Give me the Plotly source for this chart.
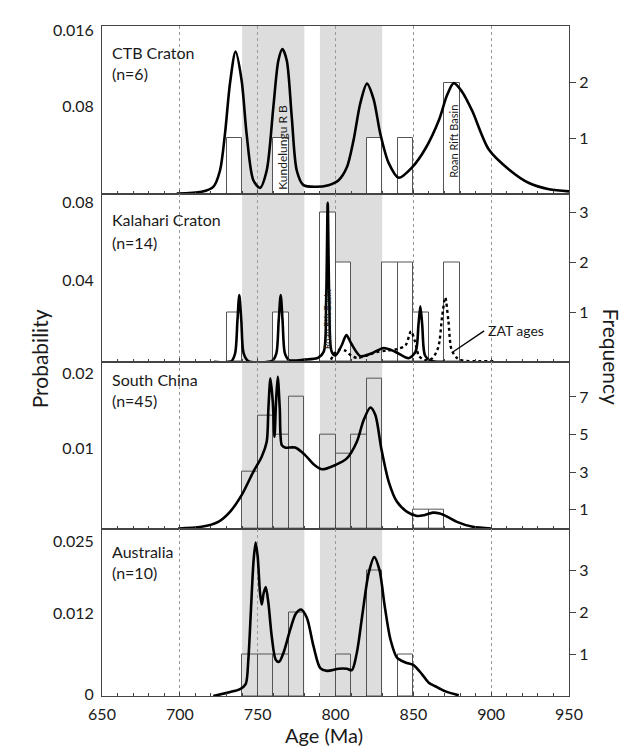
import plotly.graph_objects as go

# ---------------- data ----------------
ctb_age = [698, 714, 721.5, 725.8, 729, 732.2, 735.8, 739.7, 742.9, 747.2, 751.5, 755.8, 760.1, 763.3,
           765.9, 768.7, 771.9, 775.1, 779.4, 787, 795.5, 802, 807.3, 811.6, 815.9, 820.2, 824.5, 828.8,
           834.2, 840.6, 849.2, 857.8, 866.4, 871.7, 876, 881.4, 887.8, 898.5, 911.4, 924.3, 937.2, 950]
ctb_prob = [0, 0.00016, 0.00063, 0.0022, 0.0057, 0.0105, 0.01355, 0.0108, 0.0057, 0.00127, 0.00054, 0.0022,
            0.0083, 0.0127, 0.0138, 0.0127, 0.0073, 0.0022, 0.0008, 0.00064, 0.0008, 0.00127, 0.0025, 0.0051,
            0.0086, 0.0105, 0.009, 0.0057, 0.0029, 0.0015, 0.0025, 0.0043, 0.007, 0.0094, 0.01054, 0.0097,
            0.0079, 0.0042, 0.0023, 0.001, 0.0004, 0.0002]
ctb_bin = [735, 765, 825, 845, 875]
ctb_count = [1, 1, 1, 1, 2]

kal_age = [722, 733, 735.5, 737, 738.2, 739.5, 741, 744, 759.5, 762, 763.5, 764.8, 766, 767.5, 770, 780,
           789, 792.5, 794, 795, 796, 797.5, 800, 804, 807, 810, 816, 823, 831, 838, 847, 851.5, 853.3,
           854.5, 855.7, 857.5, 861, 870]
kal_prob = [0, 0.0002, 0.004, 0.02, 0.0325, 0.02, 0.004, 0.0003, 0.0005, 0.004, 0.02, 0.0325, 0.02, 0.004,
            0.0008, 0.001, 0.002, 0.005, 0.03, 0.0775, 0.03, 0.005, 0.003, 0.008, 0.013, 0.009, 0.0027,
            0.004, 0.0067, 0.005, 0.0017, 0.005, 0.018, 0.027, 0.018, 0.003, 0.0005, 0]
zat_age = [797, 800, 803, 806, 810, 814, 820, 826, 833, 840, 845, 848.5, 851, 853.5, 857, 862, 866, 868.5,
           870.5, 872.5, 874.5, 878, 882, 890, 902]
zat_prob = [0.001, 0.0045, 0.006, 0.0055, 0.003, 0.0018, 0.003, 0.0046, 0.0055, 0.0062, 0.008, 0.0148,
            0.01, 0.003, 0.0008, 0.0015, 0.007, 0.022, 0.0313, 0.02, 0.006, 0.0018, 0.0005, 0.0002, 0.0002]
kal_bin = [735, 765, 795, 805, 835, 845, 855, 875]
kal_count = [1, 1, 3, 2, 2, 2, 1, 2]

sc_age = [698.9, 713.9, 724.7, 732.2, 739.7, 747.2, 752.6, 755.8, 756.9, 758.2, 759.7, 760.8, 761.8, 762.9,
          764.2, 765.5, 767.6, 774.1, 780.5, 785.9, 791.2, 799.8, 807.3, 813.7, 818.1, 822.4, 825.6, 829.4,
          834.2, 839.5, 846, 852.4, 857, 862.5, 867, 872, 878, 888.2, 900]
sc_prob = [0, 0.0002, 0.0008, 0.002, 0.004, 0.0068, 0.0086, 0.0104, 0.0144, 0.018, 0.0152, 0.011, 0.0152,
           0.0182, 0.0144, 0.01, 0.0097, 0.0097, 0.0088, 0.0077, 0.0071, 0.0076, 0.0084, 0.0104, 0.013,
           0.0145, 0.0136, 0.0096, 0.0056, 0.0032, 0.002, 0.0015, 0.0016, 0.0019, 0.0018, 0.0014, 0.0008,
           0.0002, 0]
sc_bin = [745, 755, 765, 775, 795, 805, 815, 825, 855, 865]
sc_count = [3, 6, 5, 7, 5, 4, 5, 8, 1, 1]

au_age = [721.5, 731.1, 738.7, 742.3, 744, 745.7, 747.4, 748.7, 750, 751.5, 752.6, 753.9, 755.2, 756.9,
          759, 761.6, 763.8, 766.6, 770.9, 774.5, 777.9, 781.6, 785.9, 790.2, 794.5, 802, 807.3, 810.5,
          813.7, 817.4, 821.3, 824.9, 828.2, 831.6, 835.3, 839.5, 844.9, 850.3, 855.6, 859.9, 864, 870.2,
          879.2]
au_prob = [0, 0.0005, 0.001, 0.0017, 0.0052, 0.0124, 0.0195, 0.022, 0.02, 0.0148, 0.0131, 0.0148, 0.0156,
           0.0133, 0.0086, 0.0052, 0.0049, 0.0062, 0.0095, 0.0118, 0.0124, 0.0112, 0.0071, 0.004, 0.0036,
           0.0039, 0.0039, 0.0037, 0.0062, 0.0119, 0.0176, 0.0199, 0.0181, 0.0129, 0.0081, 0.0055, 0.0048,
           0.0044, 0.0031, 0.0019, 0.0014, 0.0007, 0.0001]
au_bin = [745, 755, 765, 775, 805, 825, 845]
au_count = [1, 1, 1, 2, 1, 3, 1]

panel_names = ["CTB Craton", "Kalahari Craton", "South China", "Australia"]
panel_n = ["(n=6)", "(n=14)", "(n=45)", "(n=10)"]
prob_ticktext = [["0.016", "0.08"], ["0.08", "0.04"], ["0.02", "0.01"], ["0.025", "0.012", "0"]]
freq_tickvals = [[1, 2], [1, 2, 3], [1, 3, 5, 7], [1, 2, 3]]
band_ranges = [(740, 780), (790, 830)]
age_ticks = [650, 700, 750, 800, 850, 900, 950]

# ---------------- layout helpers ----------------
FONT = "Lato"
TXT = "#1a1a1a"
AX = "#444444"

curves = [(ctb_age, ctb_prob), (kal_age, kal_prob), (sc_age, sc_prob), (au_age, au_prob)]
bars = [(ctb_bin, ctb_count), (kal_bin, kal_count), (sc_bin, sc_count), (au_bin, au_count)]
prob_max = [0.016, 0.082, 0.020, 0.024]
freq_max = [3.02, 3.39, 8.88, 4.0]
prob_tickfrac = [[0.972, 0.520], [0.945, 0.486], [0.932, 0.479], [0.921, 0.494, 0.012]]
domains = [[0.75, 1.0], [0.499, 0.75], [0.25, 0.499], [0.0, 0.25]]
bar_fill = ["white", "white", "rgba(0,0,0,0)", "rgba(0,0,0,0)"]

fig = go.Figure()
layout = {}

for k in range(4):
    fy = 2 * k + 1          # frequency axis (primary, drawn first, right side)
    py = 2 * k + 2          # probability axis (overlay, left side)
    xn = k + 1
    xs = "x" if xn == 1 else f"x{xn}"
    fys = "y" if fy == 1 else f"y{fy}"
    pys = f"y{py}"

    bx, bc = bars[k]
    fig.add_trace(go.Bar(x=bx, y=bc, width=10, xaxis=xs, yaxis=fys,
                         marker=dict(color=bar_fill[k], line=dict(color="#555555", width=1)),
                         showlegend=False, hoverinfo="skip"))
    cx, cy = curves[k]
    fig.add_trace(go.Scatter(x=cx, y=cy, mode="lines", xaxis=xs, yaxis=pys,
                             line=dict(color="black", width=2.6, shape="spline", smoothing=0.8),
                             showlegend=False, hoverinfo="skip"))
    if k == 1:
        fig.add_trace(go.Scatter(x=zat_age, y=zat_prob, mode="lines", xaxis=xs, yaxis=pys,
                                 line=dict(color="black", width=2.4, dash="dot", shape="spline", smoothing=0.8),
                                 showlegend=False, hoverinfo="skip"))

    xkey = "xaxis" if xn == 1 else f"xaxis{xn}"
    layout[xkey] = dict(
        domain=[0, 1], anchor=fys, range=[650, 950],
        tickmode="array", tickvals=age_ticks,
        ticks="inside", ticklen=4, tickcolor=AX,
        minor=dict(dtick=10, tick0=650, ticks="inside", ticklen=3, tickcolor=AX, showgrid=False),
        showgrid=True, gridcolor="#9a9a9a", griddash="dot", gridwidth=1,
        showline=True, linecolor=AX, linewidth=1, mirror=True,
        zeroline=False, showticklabels=(k == 3),
        tickfont=dict(family=FONT, size=16, color=TXT), ticklabelstandoff=4,
        **({} if xn == 1 else {"matches": "x"}),
    )
    fkey = "yaxis" if fy == 1 else f"yaxis{fy}"
    layout[fkey] = dict(
        domain=domains[k], anchor=xs, side="right", range=[0, freq_max[k]],
        tickmode="array", tickvals=freq_tickvals[k],
        ticks="outside", ticklen=6, tickcolor=AX,
        showline=True, linecolor=AX, linewidth=1,
        showgrid=False, zeroline=False,
        tickfont=dict(family=FONT, size=16, color=TXT),
    )
    pkey = f"yaxis{py}"
    layout[pkey] = dict(
        overlaying=fys, anchor=xs, side="left", range=[0, prob_max[k]],
        tickmode="array", tickvals=[f * prob_max[k] for f in prob_tickfrac[k]],
        ticktext=prob_ticktext[k], ticks="",
        showline=True, linecolor=AX, linewidth=1,
        showgrid=False, zeroline=False,
        tickfont=dict(family=FONT, size=16, color=TXT), ticklabelstandoff=4,
    )

shapes = []
for a, b in band_ranges:
    shapes.append(dict(type="rect", xref="x", yref="paper", x0=a, x1=b, y0=0, y1=1,
                       fillcolor="#dddddd", line=dict(width=0), layer="below"))
# ZAT ages leader line
shapes.append(dict(type="line", xref="x2", yref="y4", x0=875.4, y0=0.0047, x1=895.5, y1=0.0150,
                   line=dict(color="black", width=1.3)))

ann = []
name_y = [(0.9598, 0.929), (0.7113, 0.677), (0.4717, 0.4405), (0.2158, 0.185)]
for k in range(4):
    ann.append(dict(text=panel_names[k], xref="paper", yref="paper", x=0.017, y=name_y[k][0],
                    xanchor="left", yanchor="middle", showarrow=False,
                    font=dict(family=FONT, size=16, color=TXT)))
    ann.append(dict(text=panel_n[k], xref="paper", yref="paper", x=0.017, y=name_y[k][1],
                    xanchor="left", yanchor="middle", showarrow=False,
                    font=dict(family=FONT, size=16, color=TXT)))

ann += [
    dict(text="Kundelungu R B", xref="x", yref="y2", x=765.9, y=0.0044, textangle=-90,
         showarrow=False, font=dict(family=FONT, size=12, color=TXT)),
    dict(text="Roan Rift Basin", xref="x", yref="y2", x=875.8, y=0.0050, textangle=-90,
         showarrow=False, font=dict(family=FONT, size=11, color=TXT)),
    dict(text="Roan Rift Basin", xref="x2", yref="y4", x=794.4, y=0.0207, textangle=-90,
         showarrow=False, font=dict(family=FONT, size=9, color=TXT)),
    dict(text="ZAT ages", xref="x2", yref="y4", x=896.5, y=0.0151, xanchor="left", yanchor="middle",
         showarrow=False, font=dict(family=FONT, size=14, color=TXT)),
    dict(text="Probability", xref="paper", yref="paper", x=-0.163, y=0.503, textangle=-90,
         showarrow=False, font=dict(family=FONT, size=21, color=TXT)),
    dict(text="Frequency", xref="paper", yref="paper", x=1.122, y=0.506, textangle=90,
         showarrow=False, font=dict(family=FONT, size=21, color=TXT)),
    dict(text="Age (Ma)", xref="paper", yref="paper", x=0.475, y=-0.058, yanchor="middle",
         showarrow=False, font=dict(family=FONT, size=20, color=TXT)),
]

fig.update_layout(
    width=628, height=746,
    margin=dict(l=94, r=67, t=16, b=58),
    paper_bgcolor="white", plot_bgcolor="white",
    barmode="overlay", bargap=0,
    shapes=shapes, annotations=ann,
    **layout,
)

fig.write_html("out.html")
